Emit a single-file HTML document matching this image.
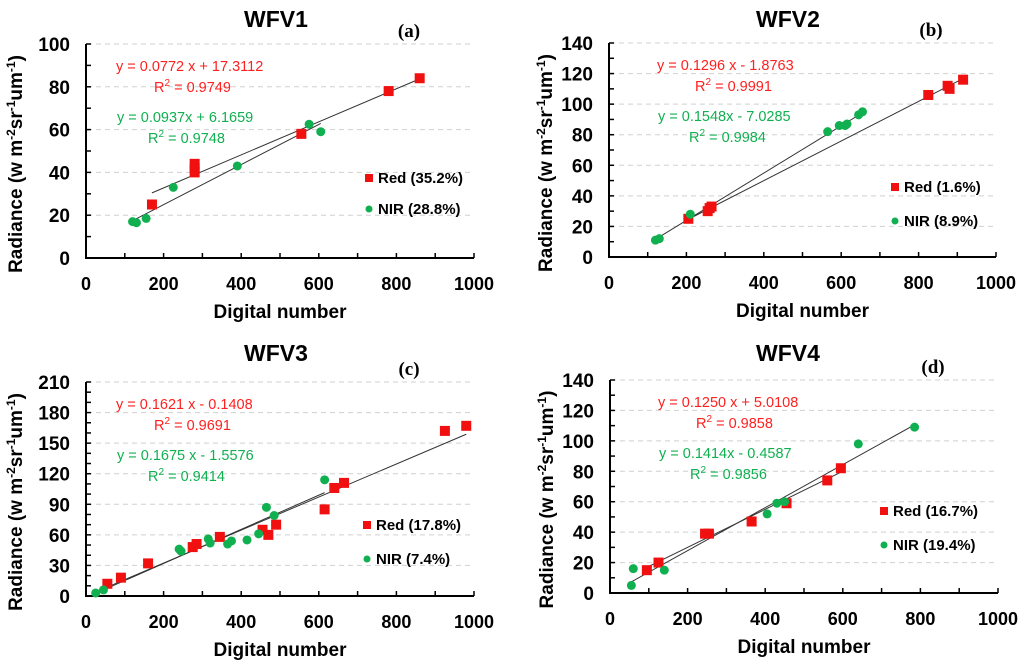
<!DOCTYPE html>
<html><head><meta charset="utf-8"><style>
html,body{margin:0;padding:0;background:#fff;}
svg{display:block;font-family:"Liberation Sans",sans-serif;}
</style></head><body>
<svg id="fig" width="1024" height="668" viewBox="0 0 1024 668" xmlns="http://www.w3.org/2000/svg"></svg>
<script>
// ---- data ----
const titles = ["WFV1","WFV2","WFV3","WFV4"];
const letters = ["(a)","(b)","(c)","(d)"];
const yMaxs = [100,140,210,140];
const yMajors = [20,20,30,20];
const redEq = ["y = 0.0772 x + 17.3112","y = 0.1296 x - 1.8763","y = 0.1621 x - 0.1408","y = 0.1250 x + 5.0108"];
const redR2 = ["0.9749","0.9991","0.9691","0.9858"];
const nirEq = ["y = 0.0937x + 6.1659","y = 0.1548x - 7.0285","y = 0.1675 x - 1.5576","y = 0.1414x - 0.4587"];
const nirR2 = ["0.9748","0.9984","0.9414","0.9856"];
const redSlope = [0.0772,0.1296,0.1621,0.1250];
const redInt = [17.3112,-1.8763,-0.1408,5.0108];
const nirSlope = [0.0937,0.1548,0.1675,0.1414];
const nirInt = [6.1659,-7.0285,-1.5576,-0.4587];
const redLegend = ["Red (35.2%)","Red (1.6%)","Red (17.8%)","Red (16.7%)"];
const nirLegend = ["NIR (28.8%)","NIR (8.9%)","NIR (7.4%)","NIR (19.4%)"];
const xTicks = [0,200,400,600,800,1000];
const redX = [
 [170,280,280,280,555,780,860],
 [205,255,260,265,825,875,880,915],
 [55,90,160,275,285,345,455,470,490,615,640,665,925,980],
 [95,125,245,255,365,455,560,595]];
const redY = [
 [25,40,42,44,58,78,84],
 [25,30,32,33,106,112,110,116],
 [12,18,32,48,51,58,65,60,70,85,106,111,162,167],
 [15,20,39,39,47,59,74,82]];
const nirX = [
 [120,130,155,225,390,575,605],
 [120,130,210,565,595,610,615,645,655],
 [25,45,240,245,315,320,365,375,415,445,465,485,615],
 [55,60,140,405,430,450,640,785]];
const nirY = [
 [17,16.5,18.5,33,43,62.5,59],
 [11,12,28,82,86,86,87,93,95],
 [3,6,46,44,56,52,51,54,55,61,87,79,114],
 [5,16,15,52,59,60,98,109]];

// ---- layout ----
const panels = [
 {x0:86,x1:474,y0:258,y1:44,ox:0,oy:0},
 {x0:609,x1:996,y0:257,y1:43,ox:512,oy:0},
 {x0:86,x1:474,y0:596,y1:382,ox:0,oy:334},
 {x0:610,x1:998,y0:593,y1:380,ox:512,oy:334}];
const NS="http://www.w3.org/2000/svg";
const svg=document.getElementById('fig');
function mk(tag,attrs,parent,text){const e=document.createElementNS(NS,tag);for(const k in attrs)e.setAttribute(k,attrs[k]);if(text!==undefined)e.textContent=text;(parent||svg).appendChild(e);return e;}

panels.forEach((p,i)=>{
 const g=mk('g',{});
 
 
 const sx=v=>p.x0+(p.x1-p.x0)*v/1000;
 const sy=v=>p.y0+(p.y1-p.y0)*v/yMaxs[i];
 const ox=p.ox, oy=p.oy;
 const cx=(p.x0+p.x1)/2;
 for(let v=yMajors[i]; v<=yMaxs[i]; v+=yMajors[i]){
  const l=mk('line',{x1:p.x0+1,x2:p.x1,y1:sy(v),y2:sy(v),stroke:'#d0d0d0','stroke-width':1,'stroke-dasharray':'5,4'},g);
   
 }
 const ax=mk('path',{d:`M${p.x0},${p.y1} V${p.y0} H${p.x1}`,stroke:'#000','stroke-width':2,fill:'none'},g);
  
 for(let v=0; v<=yMaxs[i]; v+=10){
  mk('line',{x1:p.x0,x2:p.x0+5,y1:sy(v),y2:sy(v),stroke:'#000','stroke-width':1.5},g);
 }
 for(let v=0; v<=yMaxs[i]; v+=yMajors[i]){
  const t=mk('text',{x:p.x0-16,y:sy(v)+7,'text-anchor':'end','font-size':19,'font-weight':'bold'},g,String(v));
   
 }
 for(let v=100; v<=1000; v+=100){
  mk('line',{x1:sx(v),x2:sx(v),y1:p.y0,y2:p.y0-5,stroke:'#000','stroke-width':1.5},g);
 }
 xTicks.forEach(v=>{
  const t=mk('text',{x:sx(v),y:p.y0+32,'text-anchor':'middle','font-size':18,'font-weight':'bold'},g,String(v));
   
 });
 const tt=mk('text',{x:ox+276,y:oy+27,'text-anchor':'middle','font-size':23,'font-weight':'bold'},g,titles[i]);
  
 const lt=mk('text',{x:p.x1-65,y:p.y1-7,'text-anchor':'middle','font-size':19,'font-weight':'bold','font-family':'Liberation Serif, serif'},g,letters[i]);
  
 const xt=mk('text',{x:cx,y:p.y0+60,'text-anchor':'middle','font-size':19,'font-weight':'bold'},g,'Digital number');
  
 const yc=(p.y0+p.y1)/2+13, yx=p.x0-64+(i%2?7:0);
 const yt=mk('text',{x:yx,y:yc,'text-anchor':'middle','font-size':19,'font-weight':'bold',transform:`rotate(-90 ${yx} ${yc})`},g);
  
 yt.innerHTML='Radiance (w m<tspan dy="-7" font-size="12">-2</tspan><tspan dy="7">sr</tspan><tspan dy="-7" font-size="12">-1</tspan><tspan dy="7">um</tspan><tspan dy="-7" font-size="12">-1</tspan><tspan dy="7">)</tspan>';
 [[redX,redSlope,redInt,'red-fit-line'],[nirX,nirSlope,nirInt,'nir-fit-line']].forEach(([xs,m,b,nm])=>{
  const a=Math.min(...xs[i]), c=Math.max(...xs[i]);
  const l=mk('line',{x1:sx(a),y1:sy(m[i]*a+b[i]),x2:sx(c),y2:sy(m[i]*c+b[i]),stroke:'#333','stroke-width':1},g);
   
 });
 redX[i].forEach((xv,k)=>{
  const r=mk('rect',{x:sx(xv)-5,y:sy(redY[i][k])-5,width:10,height:10,fill:'#f01010'},g);
   
 });
 nirX[i].forEach((xv,k)=>{
  const c=mk('circle',{cx:sx(xv),cy:sy(nirY[i][k]),r:4.5,fill:'#10b050'},g);
   
 });
 const ex=p.x0+30+(i%2?18:0);
 const e1=mk('text',{x:ex,y:p.y1+27,'font-size':14.5,fill:'#ff2020'},g,redEq[i]);
  
 const r1=mk('text',{x:ex+38,y:p.y1+48,'font-size':14.5,fill:'#ff2020'},g);
 r1.innerHTML='R<tspan dy="-6" font-size="10">2</tspan><tspan dy="6"> = '+redR2[i]+'</tspan>';
  
 const e2=mk('text',{x:ex+1,y:p.y1+78,'font-size':14.5,fill:'#10b050'},g,nirEq[i]);
  
 const r2=mk('text',{x:ex+32,y:p.y1+99,'font-size':14.5,fill:'#10b050'},g);
 r2.innerHTML='R<tspan dy="-6" font-size="10">2</tspan><tspan dy="6"> = '+nirR2[i]+'</tspan>';
  
});
const legPos=[[369,178,209],[895,187,221],[367,525,559],[884,511,545]];
legPos.forEach((lp,i)=>{
 const g=mk('g',{});
  
 mk('rect',{x:lp[0]-4,y:lp[1]-4,width:8,height:8,fill:'#f01010'},g);
 const a=mk('text',{x:lp[0]+9,y:lp[1]+5,'font-size':15,'font-weight':'bold'},g,redLegend[i]);
  
 mk('circle',{cx:lp[0],cy:lp[2],r:3.5,fill:'#10b050'},g);
 const b=mk('text',{x:lp[0]+9,y:lp[2]+5,'font-size':15,'font-weight':'bold'},g,nirLegend[i]);
  
});
</script>
</body></html>
